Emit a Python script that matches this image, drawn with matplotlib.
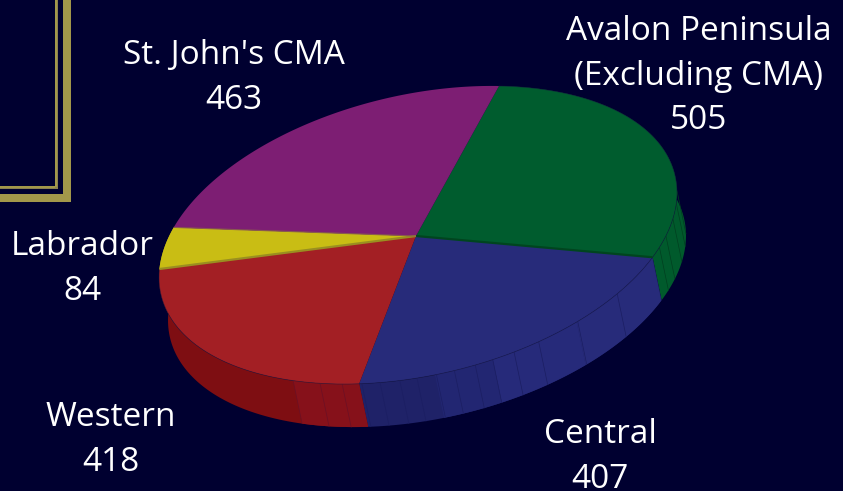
import numpy as np
import matplotlib
matplotlib.use("Agg")
import matplotlib.pyplot as plt
from matplotlib.patches import Polygon, Rectangle

regions = ["Avalon Peninsula\n(Excluding CMA)", "Central", "Western", "Labrador", "St. John's CMA"]
values = [505, 407, 418, 84, 463]
top_colors = ["#005c2e", "#272b7a", "#a31f24", "#c9bd14", "#7d1e73"]
side_colors = ["#005a2c", "#1f2268", "#7e0e12", "#a89c10", "#7d1e73"]
label_xy = [(699, 76), (600, 457), (111, 440), (82, 269), (234, 78)]

bg = "#000030"
gold = "#a2974a"

# pie is a flat disc sheared into the page, pixel coords
# apex sits a little off the rim centre because of the perspective
apex = (416, 236)
cx, cy = 418, 235
u = np.array([81, -149])
v = np.array([246, 4.5])
depth = np.array([9, 43])

# hand picked facet angles on the side wall
facets = [71, 76, 82, 88.6, 93, 111.5, 123.7, 134, 140, 145, 149, 153.7, 157.7, 162,
          165.8, 170.2, 174.3, 178.8, 184, 190.6]


def rim(theta):
    t = np.radians(theta)
    return np.column_stack([cx + u[0] * np.cos(t) + v[0] * np.sin(t),
                            cy + u[1] * np.cos(t) + v[1] * np.sin(t)])


fig = plt.figure(figsize=(8.43, 4.91), dpi=100, facecolor=bg)
ax = fig.add_axes([0, 0, 1, 1])
ax.set_xlim(0, 843)
ax.set_ylim(491, 0)
ax.axis("off")

# frame corner
ax.add_patch(Rectangle((63, -2), 8, 204, color=gold, lw=0))
ax.add_patch(Rectangle((-2, 194), 73, 8, color=gold, lw=0))
ax.add_patch(Rectangle((55, -2), 3, 191, color="#8a8150", lw=0))
ax.add_patch(Rectangle((-2, 186), 60, 3, color="#8a8150", lw=0))
ax.add_patch(Rectangle((55, -2), 1.6, 189, color=gold, lw=0))
ax.add_patch(Rectangle((-2, 186), 57, 1.6, color=gold, lw=0))

edges = np.cumsum([0] + values) / sum(values) * 360

# side wall first, the tops cover whatever sits behind them
for i in range(4):
    th = np.linspace(edges[i], edges[i + 1], 120)
    top = rim(th)
    ax.add_patch(Polygon(np.vstack([top, (top + depth)[::-1]]), closed=True,
                         fc=side_colors[i], ec="none", zorder=2))

# blue wall lightens toward the right, red wall lightens next to the blue
for a, b, col in [(97, 124, "#272b7a"), (124, 145, "#262a7a"), (145, 158, "#222672"),
                  (174.9, 190.6, "#86111a")]:
    th = np.linspace(a, b, 40)
    top = rim(th)
    ax.add_patch(Polygon(np.vstack([top, (top + depth)[::-1]]), closed=True,
                         fc=col, ec="none", zorder=2.1))

for f in facets:
    p = rim(np.array([f]))[0]
    if f < edges[1]:
        col = "#003f20"
    elif f < edges[2]:
        col = "#1b1e62"
    else:
        col = "#6a1025"
    ax.plot([p[0], p[0] + depth[0]], [p[1], p[1] + depth[1]], color=col, lw=0.5, zorder=2.2)

for i in range(5):
    th = np.linspace(edges[i], edges[i + 1], 120)
    pts = np.vstack([apex, rim(th)])
    ax.add_patch(Polygon(pts, closed=True, fc=top_colors[i], ec="none", zorder=3))

# rim hairline over the walls
th = np.linspace(edges[0], edges[3], 300)
r = rim(th)
ax.plot(r[:, 0], r[:, 1], color="#14163f", lw=0.5, alpha=0.6, zorder=3.1)

# thin dark seams along the spokes
for ang, col, w in [(edges[1], "#00451f", 1.6), (edges[3], "#9a8f20", 1.6), (edges[4], "#8a5a50", 0.8)]:
    p = rim(np.array([ang]))[0]
    ax.plot([apex[0], p[0]], [apex[1], p[1]], color=col, lw=w, zorder=3.2, solid_capstyle="butt")

for name, val, (x, y) in zip(regions, values, label_xy):
    ax.text(x, y, f"{name}\n{val}", color="white", fontsize=24, family="Open Sans",
            ha="center", va="center", linespacing=1.46, zorder=5, clip_on=False)

fig.savefig("out.png", dpi=100, facecolor=bg)
